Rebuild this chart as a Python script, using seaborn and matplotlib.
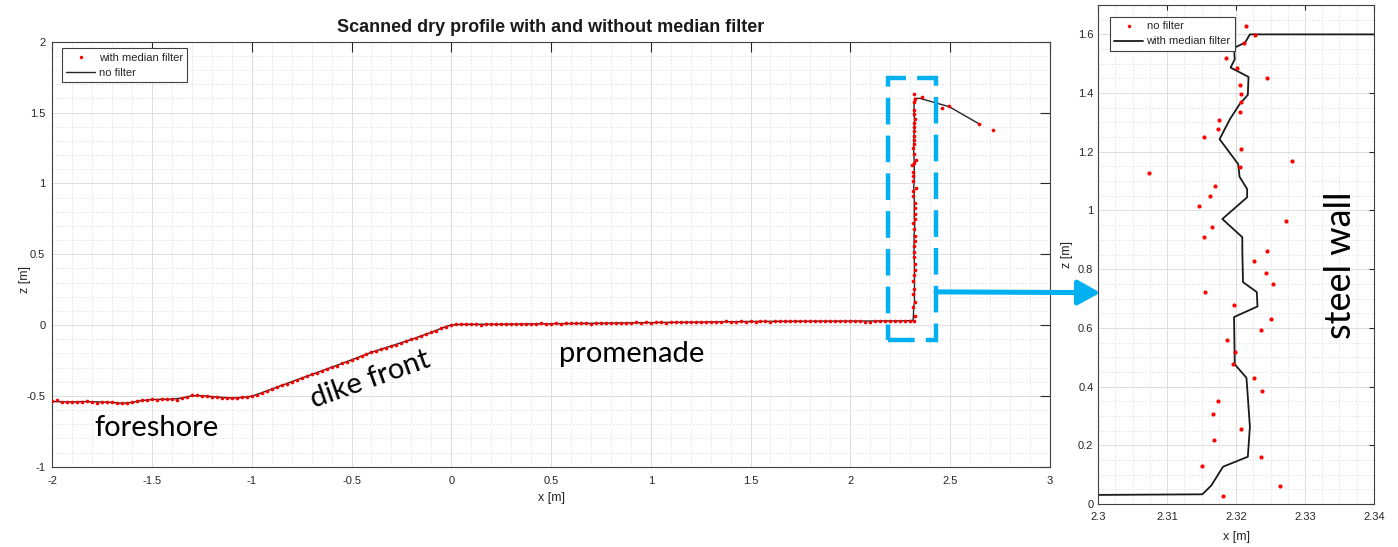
import matplotlib
matplotlib.use("Agg")
import matplotlib.pyplot as plt
import seaborn as sns
from matplotlib.patches import Rectangle, ConnectionPatch, ArrowStyle
from matplotlib.ticker import MultipleLocator
from matplotlib.lines import Line2D

# ---------------- data ----------------
# left panel: scanned points (red dots)
ground_dots_x = [-2.000, -1.975, -1.950, -1.925, -1.900, -1.875, -1.850, -1.825, -1.800, -1.775,
                 -1.750, -1.725, -1.700, -1.675, -1.650, -1.625, -1.600, -1.575, -1.550, -1.525,
                 -1.500, -1.475, -1.450, -1.425, -1.400, -1.375, -1.350, -1.325, -1.300, -1.275,
                 -1.250, -1.225, -1.200, -1.175, -1.150, -1.125, -1.100, -1.075, -1.050, -1.025,
                 -1.000, -0.975, -0.950, -0.925, -0.900, -0.875, -0.850, -0.825, -0.800, -0.775,
                 -0.750, -0.725, -0.700, -0.675, -0.650, -0.625, -0.600, -0.575, -0.550, -0.525,
                 -0.500, -0.475, -0.450, -0.425, -0.400, -0.375, -0.350, -0.325, -0.300, -0.275,
                 -0.250, -0.225, -0.200, -0.175, -0.150, -0.125, -0.100, -0.075, -0.050, -0.025,
                 0.000, 0.025, 0.050, 0.075, 0.100, 0.125, 0.150, 0.175, 0.200, 0.225,
                 0.250, 0.275, 0.300, 0.325, 0.350, 0.375, 0.400, 0.425, 0.450, 0.475,
                 0.500, 0.525, 0.550, 0.575, 0.600, 0.625, 0.650, 0.675, 0.700, 0.725,
                 0.750, 0.775, 0.800, 0.825, 0.850, 0.875, 0.900, 0.925, 0.950, 0.975,
                 1.000, 1.025, 1.050, 1.075, 1.100, 1.125, 1.150, 1.175, 1.200, 1.225,
                 1.250, 1.275, 1.300, 1.325, 1.350, 1.375, 1.400, 1.425, 1.450, 1.475,
                 1.500, 1.525, 1.550, 1.575, 1.600, 1.625, 1.650, 1.675, 1.700, 1.725,
                 1.750, 1.775, 1.800, 1.825, 1.850, 1.875, 1.900, 1.925, 1.950, 1.975,
                 2.000, 2.025, 2.050, 2.075, 2.100, 2.125, 2.150, 2.175, 2.200, 2.225,
                 2.250, 2.275, 2.300]
ground_dots_z = [-0.538, -0.528, -0.545, -0.543, -0.545, -0.541, -0.540, -0.537, -0.541, -0.548,
                 -0.540, -0.542, -0.545, -0.550, -0.553, -0.551, -0.545, -0.538, -0.532, -0.528,
                 -0.525, -0.527, -0.523, -0.525, -0.522, -0.526, -0.514, -0.505, -0.497, -0.495,
                 -0.500, -0.503, -0.505, -0.507, -0.512, -0.517, -0.515, -0.514, -0.511, -0.505,
                 -0.502, -0.494, -0.477, -0.466, -0.451, -0.440, -0.424, -0.414, -0.399, -0.389,
                 -0.374, -0.363, -0.348, -0.337, -0.323, -0.312, -0.297, -0.287, -0.271, -0.260,
                 -0.245, -0.233, -0.217, -0.205, -0.191, -0.181, -0.168, -0.159, -0.146, -0.138,
                 -0.125, -0.115, -0.101, -0.091, -0.076, -0.065, -0.050, -0.039, -0.023, -0.011,
                 0.001, 0.004, 0.006, 0.005, 0.004, 0.006, 0.003, 0.005, 0.004, 0.006,
                 0.007, 0.005, 0.004, 0.008, 0.009, 0.007, 0.010, 0.008, 0.011, 0.007,
                 0.009, 0.012, 0.010, 0.013, 0.011, 0.012, 0.014, 0.012, 0.010, 0.015,
                 0.013, 0.016, 0.014, 0.012, 0.016, 0.017, 0.015, 0.018, 0.016, 0.019,
                 0.017, 0.020, 0.018, 0.016, 0.020, 0.021, 0.019, 0.022, 0.020, 0.023,
                 0.021, 0.019, 0.023, 0.024, 0.022, 0.025, 0.023, 0.021, 0.025, 0.024,
                 0.026, 0.022, 0.025, 0.027, 0.024, 0.026, 0.028, 0.025, 0.027, 0.029,
                 0.026, 0.028, 0.027, 0.030, 0.027, 0.025, 0.028, 0.029, 0.026, 0.028,
                 0.030, 0.027, 0.025, 0.022, 0.024, 0.028, 0.029, 0.027, 0.030, 0.029,
                 0.028, 0.030, 0.029]

# raw scan points along the steel wall (right panel "no filter")
wall_dots_x = [2.3181, 2.3263, 2.3151, 2.3236, 2.3168, 2.3207, 2.3166, 2.3173, 2.3237, 2.3226,
               2.3195, 2.3198, 2.3187, 2.3236, 2.3250, 2.3197, 2.3155, 2.3253, 2.3244, 2.3226,
               2.3245, 2.3153, 2.3165, 2.3272, 2.3146, 2.3162, 2.3169, 2.3073, 2.3205, 2.3281,
               2.3207, 2.3153, 2.3174, 2.3175, 2.3205, 2.3207, 2.3207, 2.3206, 2.3245, 2.3201,
               2.3185, 2.3211, 2.3227, 2.3215]
wall_dots_z = [0.027, 0.062, 0.128, 0.161, 0.218, 0.257, 0.308, 0.351, 0.385, 0.429,
               0.477, 0.517, 0.560, 0.594, 0.631, 0.679, 0.723, 0.748, 0.786, 0.827,
               0.862, 0.911, 0.945, 0.965, 1.017, 1.049, 1.083, 1.128, 1.147, 1.168,
               1.210, 1.249, 1.278, 1.309, 1.337, 1.368, 1.398, 1.428, 1.453, 1.487,
               1.518, 1.571, 1.598, 1.628]

# scan points on top of the wall
crest_dots_x = [2.358, 2.458, 2.496, 2.647, 2.714]
crest_dots_z = [1.612, 1.534, 1.546, 1.419, 1.377]

# left panel profile line
ground_line_x = [-2.00, -1.95, -1.90, -1.85, -1.80, -1.75, -1.70, -1.65, -1.60, -1.55, -1.50,
                 -1.45, -1.40, -1.35, -1.30, -1.25, -1.20, -1.15, -1.10, -1.05, -1.00, -0.95,
                 -0.90, -0.80, -0.70, -0.60, -0.50, -0.40, -0.30, -0.20, -0.10, -0.03, 0.00,
                 0.05, 0.25, 0.50, 0.75, 1.00, 1.25, 1.50, 1.75, 2.00, 2.25]
ground_line_z = [-0.540, -0.542, -0.543, -0.540, -0.542, -0.543, -0.546, -0.552, -0.546, -0.533,
                 -0.526, -0.524, -0.523, -0.515, -0.499, -0.499, -0.505, -0.511, -0.515, -0.511,
                 -0.502, -0.478, -0.452, -0.400, -0.349, -0.298, -0.246, -0.192, -0.147, -0.102,
                 -0.051, -0.012, 0.000, 0.005, 0.006, 0.009, 0.013, 0.017, 0.021, 0.025,
                 0.027, 0.028, 0.029]

# median-filtered wall line (right panel)
wall_line_x = [2.3000, 2.3151, 2.3164, 2.3181, 2.3217, 2.3220, 2.3217, 2.3215, 2.3198, 2.3197,
               2.3231, 2.3230, 2.3210, 2.3209, 2.3209, 2.3180, 2.3216, 2.3216, 2.3205, 2.3203,
               2.3176, 2.3191, 2.3205, 2.3217, 2.3218, 2.3192, 2.3198, 2.3197, 2.3213, 2.3220,
               2.3490]
wall_line_z = [0.031, 0.033, 0.063, 0.127, 0.161, 0.263, 0.365, 0.430, 0.476, 0.637,
               0.673, 0.722, 0.756, 0.863, 0.909, 0.971, 1.045, 1.073, 1.115, 1.158,
               1.243, 1.311, 1.362, 1.394, 1.455, 1.487, 1.515, 1.554, 1.572, 1.600,
               1.600]

crest_line_x = [2.496, 2.647]
crest_line_z = [1.541, 1.419]

# ticks
left_xticks = [-2, -1.5, -1, -0.5, 0, 0.5, 1, 1.5, 2, 2.5, 3]
left_xlabels = ["-2", "-1.5", "-1", "-0.5", "0", "0.5", "1", "1.5", "2", "2.5", "3"]
left_yticks = [-1, -0.5, 0, 0.5, 1, 1.5, 2]
left_ylabels = ["-1", "-0.5", "0", "0.5", "1", "1.5", "2"]
right_xticks = [2.30, 2.31, 2.32, 2.33, 2.34]
right_xlabels = ["2.3", "2.31", "2.32", "2.33", "2.34"]
right_yticks = [0, 0.2, 0.4, 0.6, 0.8, 1.0, 1.2, 1.4, 1.6]
right_ylabels = ["0", "0.2", "0.4", "0.6", "0.8", "1", "1.2", "1.4", "1.6"]

# ---------------- figure ----------------
sns.set_style("white")
plt.rcParams['font.family'] = ['Liberation Sans', 'DejaVu Sans']
plt.rcParams['axes.unicode_minus'] = False

fig = plt.figure(figsize=(13.98, 5.47), dpi=100)
ax1 = fig.add_axes([0.0374, 0.1468, 0.7135, 0.7770])
ax2 = fig.add_axes([0.7856, 0.0786, 0.1972, 0.9122])

DOT = '#ff0000'
LINE = '#262626'
AXC = '#262626'

left_dx = ground_dots_x + wall_dots_x + crest_dots_x
left_dz = ground_dots_z + wall_dots_z + crest_dots_z
left_lx = ground_line_x + wall_line_x[:-1] + [2.349] + crest_line_x
left_lz = ground_line_z + wall_line_z[:-1] + [1.600] + crest_line_z

sns.scatterplot(x=left_dx, y=left_dz, ax=ax1, color=DOT, s=7, linewidth=0, zorder=3, legend=False)
sns.lineplot(x=left_lx, y=left_lz, ax=ax1, color=LINE, lw=1.0, sort=False, estimator=None,
             zorder=2, legend=False)

sns.scatterplot(x=wall_dots_x, y=wall_dots_z, ax=ax2, color=DOT, s=9, linewidth=0, zorder=3, legend=False)
sns.lineplot(x=wall_line_x, y=wall_line_z, ax=ax2, color='#1a1a1a', lw=1.3, sort=False,
             estimator=None, zorder=2, legend=False)


def style(ax, xt, xl, yt, yl, xminor, yminor, ticklen):
    ax.set_xticks(xt)
    ax.set_xticklabels(xl)
    ax.set_yticks(yt)
    ax.set_yticklabels(yl)
    ax.xaxis.set_minor_locator(MultipleLocator(xminor))
    ax.yaxis.set_minor_locator(MultipleLocator(yminor))
    ax.grid(which='major', color='#dedede', lw=0.7, ls='-')
    ax.grid(which='minor', color='#e2e2e2', lw=0.6, ls=(0, (2, 2)))
    ax.set_axisbelow(True)
    ax.tick_params(which='major', direction='in', length=ticklen, width=0.8, color=AXC,
                   labelcolor=AXC, top=True, right=True, labelsize=8)
    ax.tick_params(which='minor', length=0, top=True, right=True)
    for s in ax.spines.values():
        s.set_color('#404040')
        s.set_linewidth(0.8)


style(ax1, left_xticks, left_xlabels, left_yticks, left_ylabels, 0.1, 0.1, 7)
ax1.set_xlim(-2, 3)
ax1.set_ylim(-1, 2)
ax1.tick_params(axis='x', pad=7)
ax1.tick_params(axis='y', pad=5)
ax1.set_xlabel('x [m]', fontsize=9, color=AXC, labelpad=4)
ax1.set_ylabel('z [m]', fontsize=9, color=AXC)
ax1.yaxis.set_label_coords(-0.021, 0.44)
ax1.set_title('Scanned dry profile with and without median filter', fontsize=13,
              fontweight='bold', color='#1a1a1a', pad=7)

style(ax2, right_xticks, right_xlabels, right_yticks, right_ylabels, 0.0025, 0.05, 3.5)
ax2.set_xlim(2.30, 2.34)
ax2.set_ylim(0, 1.7)
ax2.tick_params(axis='x', pad=6)
ax2.tick_params(axis='y', pad=3.5)
ax2.set_xlabel('x [m]', fontsize=9, color=AXC, labelpad=6)
ax2.set_ylabel('z [m]', fontsize=9, color=AXC)
ax2.yaxis.set_label_coords(-0.09, 0.5)

# legends
h_dot = Line2D([], [], ls='', marker='o', markersize=2.5, color=DOT, markeredgewidth=0)
h_line = Line2D([], [], color=LINE, lw=1.0)
leg_kw = dict(loc='upper left', borderaxespad=0, frameon=True, fancybox=False, fontsize=8,
              handlelength=2.6, handletextpad=0.3, labelspacing=0.45, borderpad=0.4,
              framealpha=1, edgecolor='#404040')
lg1 = ax1.legend([h_dot, h_line], ['with median filter', 'no filter'],
                 bbox_to_anchor=(0.0097, 0.985), **leg_kw)
lg1.get_frame().set_linewidth(0.8)
lg2 = ax2.legend([h_dot, Line2D([], [], color='#1a1a1a', lw=1.3)], ['no filter', 'with median filter'],
                 bbox_to_anchor=(0.042, 0.976), **leg_kw)
lg2.get_frame().set_linewidth(0.8)

# annotations
TF = ['Lato', 'DejaVu Sans']
ax1.text(-1.48, -0.783, 'foreshore', fontsize=21, family=TF, ha='center', va='baseline', color='black')
ax1.text(-0.391, -0.438, 'dike front', fontsize=21, family=TF, ha='center', va='baseline',
         rotation=19.5, rotation_mode='anchor', color='black')
ax1.text(0.906, -0.261, 'promenade', fontsize=21, family=TF, ha='center', va='baseline', color='black')
ax2.text(2.3352, 0.812, 'steel wall', fontsize=26, family=TF, ha='center', va='center',
         rotation=90, color='black')

BLUE = '#00b0f0'
rect = Rectangle((2.189, -0.105), 0.241, 1.849, fill=False, ec=BLUE, lw=3.2,
                 ls=(0, (6, 2.5)), clip_on=False, zorder=6)
ax1.add_patch(rect)
con = ConnectionPatch(xyA=(2.43, 0.234), coordsA=ax1.transData,
                      xyB=(2.3003, 0.72), coordsB=ax2.transData,
                      arrowstyle=ArrowStyle('-|>', head_length=0.45, head_width=0.25),
                      mutation_scale=30, lw=3.6, color=BLUE, zorder=7)
fig.add_artist(con)

fig.savefig('out.png', dpi=100)
